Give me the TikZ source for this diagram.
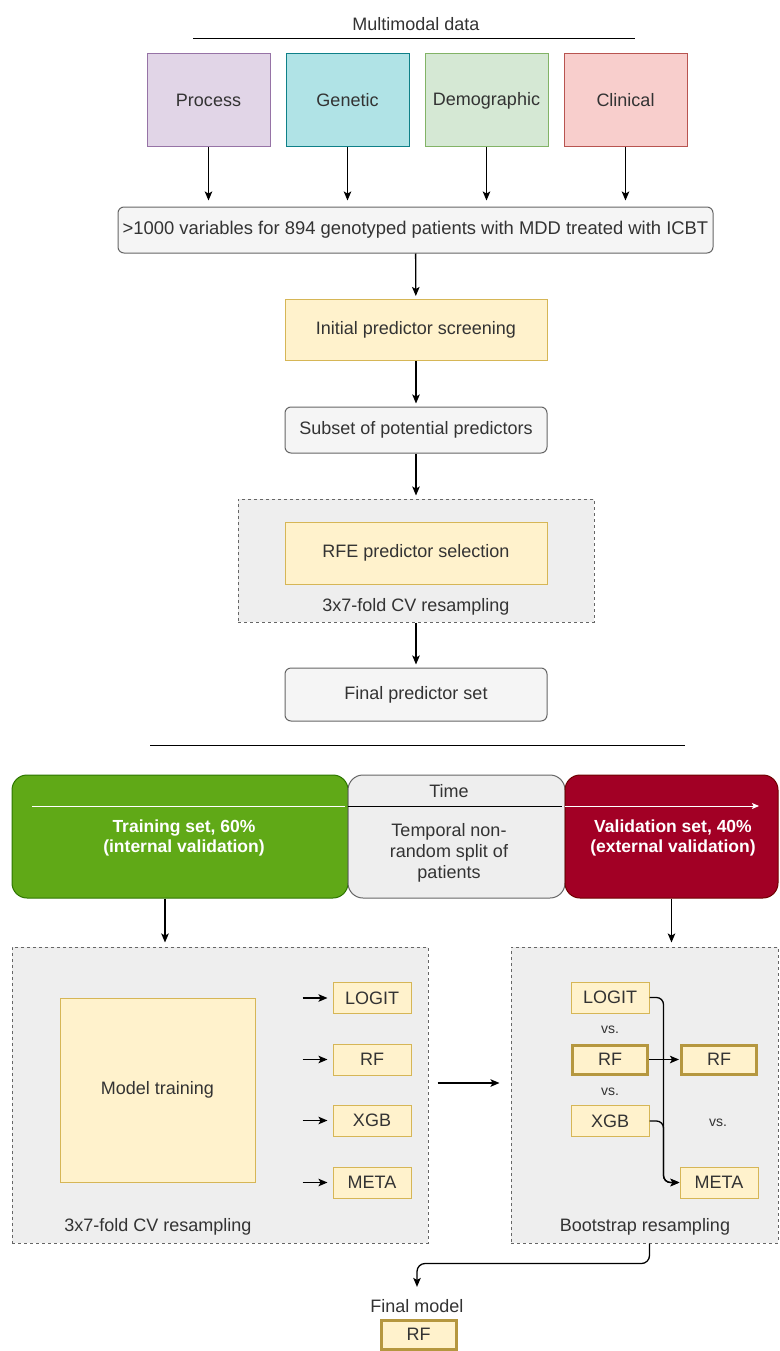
\documentclass[tikz,border=0pt]{standalone}
\usepackage{fontspec}
\setmainfont{Liberation Sans}
\usetikzlibrary{arrows.meta,positioning}

\definecolor{procfill}{HTML}{E1D5E7}
\definecolor{procline}{HTML}{9673A6}
\definecolor{genfill}{HTML}{B0E3E6}
\definecolor{genline}{HTML}{0E8088}
\definecolor{demofill}{HTML}{D5E8D4}
\definecolor{demoline}{HTML}{82B366}
\definecolor{clinfill}{HTML}{F8CECC}
\definecolor{clinline}{HTML}{B85450}
\definecolor{notefill}{HTML}{FFF2CC}
\definecolor{noteline}{HTML}{D6B656}
\definecolor{boldline}{HTML}{B5973F}
\definecolor{greyfill}{HTML}{F5F5F5}
\definecolor{greyline}{HTML}{666666}
\definecolor{panelfill}{HTML}{EEEEEE}
\definecolor{trainfill}{HTML}{60A917}
\definecolor{trainline}{HTML}{2D7600}
\definecolor{validfill}{HTML}{A20025}
\definecolor{validline}{HTML}{6F0000}
\definecolor{txt}{HTML}{333333}

\begin{document}
\begin{tikzpicture}[x=1pt,y=-1pt,->,>={Stealth[length=9pt,width=7.5pt,inset=2pt]},shorten >=3pt,line width=1.3pt]
\tikzstyle{every node}=[text=txt,font=\fontsize{18}{21}\selectfont,inner sep=1pt,line width=1pt]
\tikzstyle{source}=[draw,minimum width=123pt,minimum height=93pt]
\tikzstyle{grey box}=[draw=greyline,fill=greyfill,rounded corners=6pt,minimum width=262pt]
\tikzstyle{note}=[draw=noteline,fill=notefill]
\tikzstyle{panel}=[draw=greyline,fill=panelfill,dashed]
\tikzstyle{model}=[note,minimum width=78pt,minimum height=31pt]
\tikzstyle{chosen}=[model,draw=boldline,line width=3pt,minimum width=75pt,minimum height=29pt]
\tikzstyle{split}=[rounded corners=15pt,minimum height=123pt]
\tikzstyle{vs}=[font=\fontsize{14}{16}\selectfont]

\useasboundingbox (0,0) rectangle (779,1351);

% multimodal data
\node (title) at (416,24) {Multimodal data};
\draw[-,line width=1pt] (193,39) -- (638,39);
\node[source,fill=procfill,draw=procline] (process) at (208.5,100.5) {Process};
\node[source,fill=genfill,draw=genline] (genetic) [right=15pt of process] {Genetic};
\node[source,fill=demofill,draw=demoline] (demo) [right=15pt of genetic] {Demographic};
\node[source,fill=clinfill,draw=clinline] (clinical) [right=15pt of demo] {Clinical};
\node[grey box,minimum width=595pt,minimum height=46pt,font=\fontsize{18.4}{21}\selectfont] (vars) at (415.5,230)
  {>1000 variables for 894 genotyped patients with MDD treated with ICBT};
\foreach \s in {process,genetic,demo,clinical}
  \draw[shorten >=6pt] (\s) -- (\s |- vars.north);

% predictor selection
\node[note,minimum width=262pt,minimum height=61pt] (screen) at (416,330) {Initial predictor screening};
\node[grey box,minimum height=46pt] (subset) at (416,430) {Subset of potential predictors};
\node[panel,minimum width=356pt,minimum height=123pt] (rfepanel) at (416,560.5) {};
\node[note,minimum width=262pt,minimum height=62pt] (rfe) at (416,553) {RFE predictor selection};
\node (rfecv) at (416,607) {3x7-fold CV resampling};
\node[grey box,minimum height=53pt] (final) at (416,694.5) {Final predictor set};
\draw (vars) -- (screen);
\draw (screen) -- (subset);
\draw (subset) -- (rfepanel);
\draw (rfepanel) -- (final);
\draw[-,line width=1pt] (150,745) -- (688,745);

% temporal split
\node[split,draw=trainline,fill=trainfill,minimum width=336pt] (train) at (180,836.5) {};
\node[split,draw=greyline,fill=panelfill,minimum width=217pt] (split) at (456.5,836.5) {};
\node[split,draw=validline,fill=validfill,minimum width=213pt] (valid) at (671.5,836.5) {};
\node[text=white,font=\fontsize{17.5}{20.5}\selectfont\bfseries,align=center] (trainlbl) at (184,838)
  {Training set, 60\%\\(internal validation)};
\node[text=white,font=\fontsize{17.5}{20.5}\selectfont\bfseries,align=center] (validlbl) at (673,838)
  {Validation set, 40\%\\(external validation)};
\node (time) at (449,791) {Time};
\node[align=center] (splitlbl) at (449,853) {Temporal non-\\random split of\\patients};
\coordinate (tstart) at (32,806);
\coordinate (tend) at (759,806);
\draw[-,white,line width=1pt] (tstart) -- (tstart -| split.west);
\draw[-,line width=1pt] (tstart -| split.west) -- (tstart -| valid.west);
\draw[white,line width=1pt,shorten >=0pt,-{Stealth[length=7pt,width=6pt,inset=1.5pt]}] (tstart -| valid.west) -- (tend);

% training
\node[panel,minimum width=416pt,minimum height=296pt] (trainpanel) at (220,1095) {};
\node[note,minimum width=195pt,minimum height=184pt] (training) at (157.5,1090) {Model training};
\node[model] (logitA) at (372,998) {LOGIT};
\node[model] (rfA) at (372,1059.5) {RF};
\node[model] (xgbA) at (372,1120.5) {XGB};
\node[model] (metaA) at (372,1182.5) {META};
\node (traincv) at (158,1227) {3x7-fold CV resampling};
\foreach \m in {logitA,rfA,xgbA,metaA}
  \draw[shorten >=5pt] ([xshift=-30pt]\m.west) -- (\m.west);
\draw[shorten >=0pt] ([xshift=-15pt]train.south) -- ++(0,44);

% validation
\node[panel,minimum width=267pt,minimum height=296pt] (validpanel) at (644.5,1095) {};
\node[model] (logitB) at (610,997.5) {LOGIT};
\node[vs] (vs1) at (610,1030) {vs.};
\node[chosen] (rfB) at (610,1059.5) {RF};
\node[vs] (vs2) at (610,1092) {vs.};
\node[model] (xgbB) at (610,1121) {XGB};
\node[chosen] (rfC) at (719,1059.5) {RF};
\node[vs] (vs3) at (718,1123) {vs.};
\node[model] (metaC) at (719,1182.5) {META};
\node (boot) at (645,1227) {Bootstrap resampling};
\draw[shorten >=0pt] (valid.south) -- ++(0,44);
\draw[shorten <=9pt,shorten >=11pt] ([yshift=12pt]trainpanel.east) -- ([yshift=12pt]validpanel.west);
\draw[rounded corners=7pt,shorten >=0pt] (logitB.east) -| ([xshift=-16pt]metaC.west) -- (metaC.west);
\draw[rounded corners=7pt,shorten >=0pt] (xgbB.east) -| ([xshift=-16pt]metaC.west) -- (metaC.west);
\draw[shorten >=1pt] (rfB) -- (rfC);

% final model
\node (finallbl) at (417,1306) {Final model};
\node[chosen] (finalrf) at (418.5,1334.5) {RF};
\draw[rounded corners=8pt,shorten >=11pt] ([xshift=5pt]validpanel.south) -- ++(0,20) -| (finallbl.north);
\end{tikzpicture}
\end{document}
